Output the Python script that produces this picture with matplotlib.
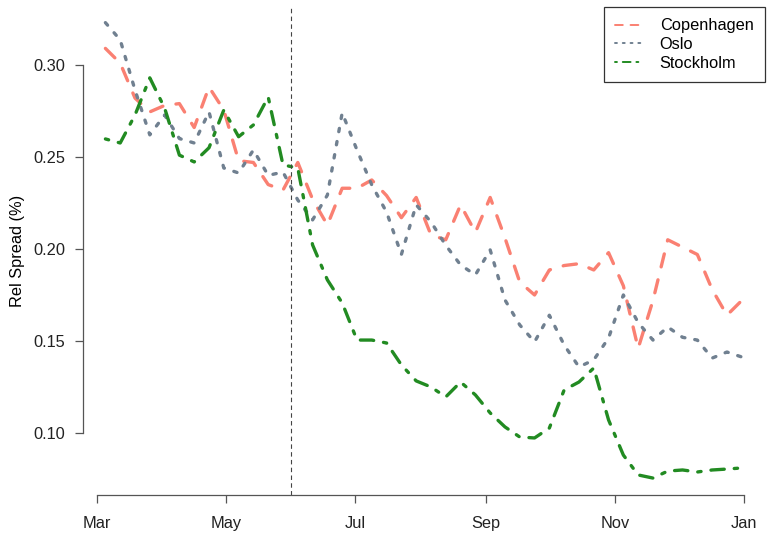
# Imports
import numpy as np
import pandas as pd
import matplotlib
matplotlib.use("Agg")
import matplotlib.pyplot as plt
import matplotlib.dates as mdates
from matplotlib.lines import Line2D

plt.rcParams["font.family"] = ["Liberation Sans", "DejaVu Sans"]
plt.rcParams["font.size"] = 11.8

# Data (weekly relative spreads)
dates = pd.date_range("2020-03-05", periods=44, freq="7D")

copenhagen = [0.309, 0.301, 0.282, 0.2745, 0.278, 0.279, 0.266, 0.288, 0.2755, 0.248,
              0.247, 0.235, 0.232, 0.247, 0.227, 0.213, 0.233, 0.233, 0.2375, 0.229,
              0.217, 0.228, 0.2076, 0.205, 0.224, 0.209, 0.228, 0.206, 0.182, 0.175,
              0.1886, 0.191, 0.192, 0.1886, 0.198, 0.180, 0.146, 0.172, 0.205, 0.201,
              0.197, 0.178, 0.164, 0.172]

oslo = [0.323, 0.3136, 0.2864, 0.262, 0.2728, 0.260, 0.2576, 0.2745, 0.244, 0.2413,
        0.2538, 0.240, 0.2418, 0.2266, 0.2158, 0.2293, 0.274, 0.2538, 0.2348, 0.220,
        0.197, 0.224, 0.2147, 0.202, 0.1913, 0.1859, 0.1995, 0.1723, 0.1587, 0.1495,
        0.164, 0.1478, 0.1359, 0.1397, 0.1516, 0.175, 0.160, 0.1505, 0.1576, 0.152,
        0.1505, 0.1407, 0.144, 0.1413]

stockholm = [0.2598, 0.2576, 0.2728, 0.293, 0.2766, 0.251, 0.2473, 0.255, 0.2755, 0.261,
             0.2674, 0.2826, 0.2457, 0.244, 0.2022, 0.1832, 0.1707, 0.1505, 0.1505, 0.1489,
             0.137, 0.1283, 0.125, 0.1196, 0.1277, 0.1207, 0.1109, 0.1033, 0.0978, 0.0973,
             0.1027, 0.1234, 0.1277, 0.1353, 0.1071, 0.088, 0.0772, 0.0755, 0.0793, 0.0799,
             0.0788, 0.0799, 0.0804, 0.081]

cities = ["Copenhagen", "Oslo", "Stockholm"]
colors = ["#FA8072", "#708090", "#228B22"]
styles = [(0, (4, 4)), (0, (1, 3)), (0, (1, 3, 4, 3))]
event_date = pd.Timestamp("2020-06-01")

# Plotting
fig = plt.figure(figsize=(7.68, 5.36), dpi=100)
ax = fig.add_axes([83 / 768, 41 / 536, 682 / 768, 488 / 536])

for series, col, ls in zip([copenhagen, oslo, stockholm], colors, styles):
    ax.plot(dates, series, color=col, linestyle=ls, linewidth=2.4,
            dash_capstyle="round", solid_capstyle="round")

ax.axvline(event_date, color="#444444", linewidth=0.8, linestyle=(0, (4, 3)))

start = pd.Timestamp("2020-03-01")
ax.set_xlim(start - pd.Timedelta(days=6.6), start + pd.Timedelta(days=316))
ax.set_ylim(0.0663, 0.3315)

ax.xaxis.set_major_locator(mdates.MonthLocator(bymonth=[1, 3, 5, 7, 9, 11]))
ax.xaxis.set_major_formatter(mdates.DateFormatter("%b"))
ax.set_yticks([0.10, 0.15, 0.20, 0.25, 0.30])
ax.set_yticklabels(["0.10", "0.15", "0.20", "0.25", "0.30"])

for side in ["top", "right"]:
    ax.spines[side].set_visible(False)
for side in ["left", "bottom"]:
    ax.spines[side].set_color("#555555")
    ax.spines[side].set_linewidth(0.9)
ax.spines["left"].set_bounds(0.10, 0.30)
ax.spines["bottom"].set_bounds(mdates.date2num(start), mdates.date2num(pd.Timestamp("2021-01-01")))
ax.tick_params(length=6, width=0.9, color="#555555", labelcolor="#222222")
ax.tick_params(axis="x", pad=9)
ax.tick_params(axis="y", pad=7)

ax.set_ylabel("Rel Spread (%)", labelpad=6)

handles = [Line2D([], [], color=c, linestyle=ls, linewidth=1.4, dash_capstyle="round")
           for c, ls in zip(colors, styles)]
leg = ax.legend(handles, cities, loc="upper right", bbox_to_anchor=(1, 1),
                borderaxespad=0, fancybox=False, edgecolor="#333333", framealpha=1,
                handlelength=1.75, handletextpad=0.95, borderpad=0.7, labelspacing=0.22)
leg.get_frame().set_linewidth(0.9)

fig.savefig("out.png", dpi=100)
